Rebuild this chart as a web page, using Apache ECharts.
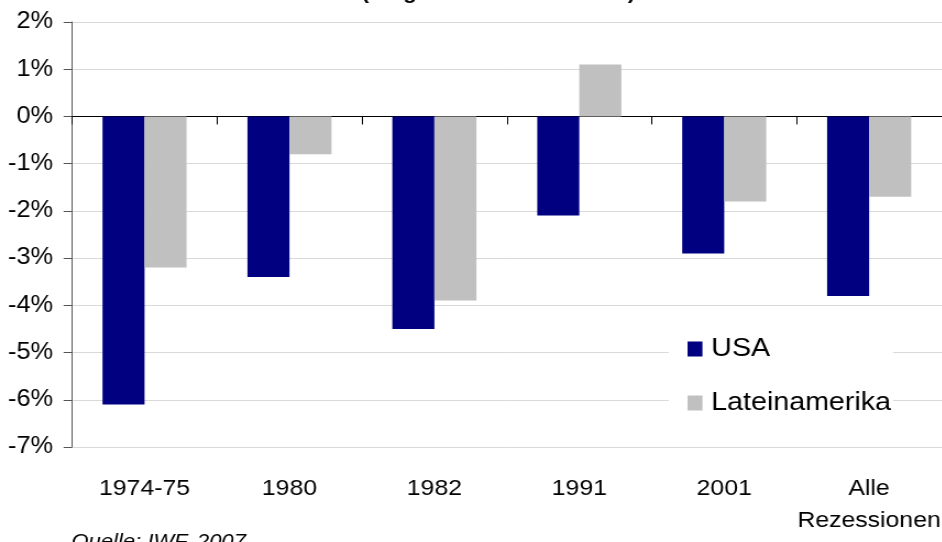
<!DOCTYPE html>
<html><head><meta charset="utf-8">
<script src="https://cdn.jsdelivr.net/npm/echarts@6/dist/echarts.min.js"></script>
<style>
html,body{margin:0;padding:0;background:#fff;overflow:hidden}
#wrap{width:942px;height:542px;overflow:hidden;position:relative}
#c{width:856.4px;height:542px;transform:scaleX(1.1);transform-origin:0 0;position:absolute;left:0;top:0}
</style>
</head><body><div id="wrap"><div id="c"></div></div>
<script>
const categories = ['1974-75', '1980', '1982', '1991', '2001', 'Alle\nRezessionen'];
const usa = [-6.1, -3.4, -4.5, -2.1, -2.9, -3.8];
const lateinamerika = [-3.2, -0.8, -3.9, 1.1, -1.8, -1.7];
const seriesNames = ['USA', 'Lateinamerika'];
const titleText = '(Vergleich zum Vorniveau)';
const sourceText = 'Quelle: IWF, 2007';

const font = '"Liberation Sans", Arial, sans-serif';
const chart = echarts.init(document.getElementById('c'));
chart.setOption({
  animation: false,
  backgroundColor: '#fff',
  grid: { left: 65.5, right: 0, top: 22, bottom: 95, containLabel: false, outerBoundsMode: 'none' },
  legend: {
    orient: 'vertical', left: 608, top: 334, itemGap: 24,
    itemWidth: 13.6, itemHeight: 15, backgroundColor: '#fff', padding: [0, 2, 0, 17],
    textStyle: { fontFamily: font, fontSize: 26, lineHeight: 30, color: '#000', padding: [0, 0, 0, 3] },
    icon: 'rect',
    data: seriesNames
  },
  xAxis: [{
    type: 'category', data: categories, position: 'bottom',
    axisLine: { show: false, onZero: false }, axisTick: { show: false },
    axisLabel: { fontFamily: font, fontSize: 22.5, color: '#000', margin: 26, lineHeight: 32, interval: 0 },
    splitLine: { show: false }
  }, {
    type: 'category', data: categories, position: 'bottom',
    axisLine: { show: true, onZero: true, lineStyle: { color: '#000', width: 1 } },
    axisTick: { show: true, length: 8, inside: false, lineStyle: { color: '#000' } },
    axisLabel: { show: false }, splitLine: { show: false }
  }],
  yAxis: {
    type: 'value', min: -7, max: 2, interval: 1,
    axisLine: { show: true, lineStyle: { color: '#555' } },
    axisTick: { show: true, length: 7.7, lineStyle: { color: '#555' } },
    axisLabel: { fontFamily: font, fontSize: 23, color: '#000', margin: 17.3, formatter: v => v + '%' },
    splitLine: { show: true, lineStyle: { color: '#d9d9d9', width: 1 } }
  },
  series: [{
    name: seriesNames[0], type: 'bar', xAxisIndex: 0, data: usa,
    barGap: '0%', barCategoryGap: '42%',
    itemStyle: { color: '#000080' }
  }, {
    name: seriesNames[1], type: 'bar', xAxisIndex: 0, data: lateinamerika,
    itemStyle: { color: '#c0c0c0' }
  }],
  graphic: [{
    type: 'text', x: 453, y: 3, z: 10,
    style: { text: titleText, textAlign: 'center', textVerticalAlign: 'bottom',
      font: 'bold 20px ' + font, fill: '#000' }
  }, {
    type: 'text', x: 65, y: 532, z: 10,
    style: { text: sourceText, textVerticalAlign: 'top', font: 'italic 20px ' + font, fill: '#000' }
  }]
});
</script></body></html>
